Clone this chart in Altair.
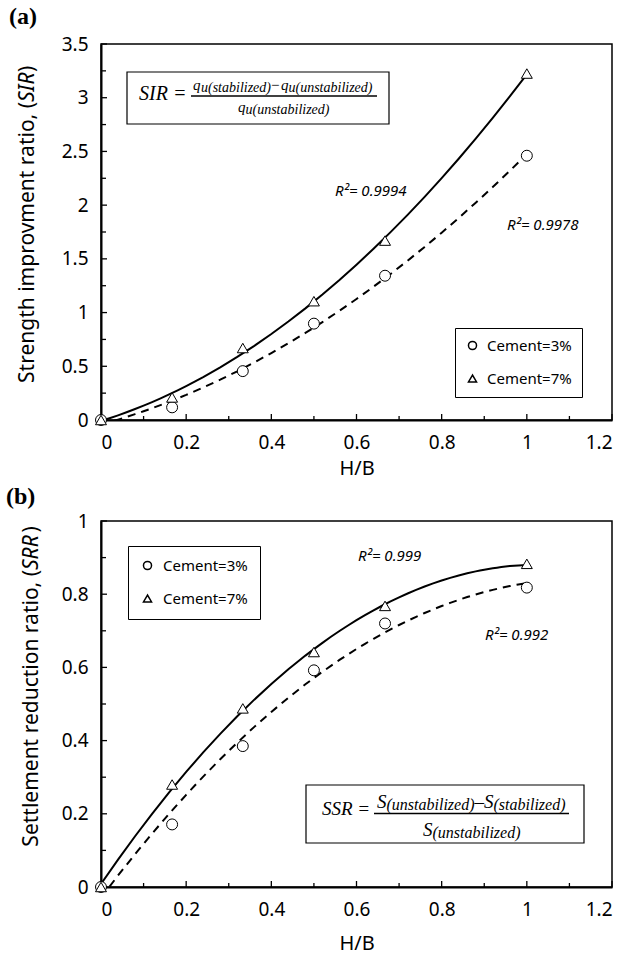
import altair as alt
import pandas as pd

# ---------------- data ----------------
hb = [0, 0.167, 0.333, 0.5, 0.667, 1.0]
series = ["Cement=3%", "Cement=7%"]
sir_c3 = [0, 0.118, 0.455, 0.897, 1.343, 2.46]
sir_c7 = [0, 0.21, 0.67, 1.106, 1.67, 3.225]
srr_c3 = [0, 0.171, 0.385, 0.592, 0.72, 0.818]
srr_c7 = [0, 0.28, 0.488, 0.642, 0.768, 0.883]

x_major = [0, 0.2, 0.4, 0.6, 0.8, 1.0, 1.2]
x_minor = [0.1, 0.3, 0.5, 0.7, 0.9, 1.1]
sir_major = [0, 0.5, 1, 1.5, 2, 2.5, 3, 3.5]
sir_minor = [0.25, 0.75, 1.25, 1.75, 2.25, 2.75, 3.25]
srr_major = [0, 0.2, 0.4, 0.6, 0.8, 1.0]
srr_minor = [0.1, 0.3, 0.5, 0.7, 0.9]

r2_sir = ["R\u00b2= 0.9994", "R\u00b2= 0.9978"]
r2_srr = ["R\u00b2= 0.999", "R\u00b2= 0.992"]
ytitle_sir = ["Strength improvment ratio, (", "SIR", ")"]
ytitle_srr = ["Settlement reduction ratio, (", "SRR", ")"]
sir_eq = ["SIR =", "q", "u(stabilized)", "\u2212", "q", "u(unstabilized)", "q", "u(unstabilized)"]
srr_eq = ["SSR =", "S", "(unstabilized)", "\u2013", "S", "(stabilized)", "S", "(unstabilized)"]
panel_tags = ["(a)", "(b)"]

W = 511
HA = 376
HB = 366
SANS = "Noto Sans"
SERIF = "Liberation Serif"

one = pd.DataFrame({"k": [0]})


def txt(s, x, y, size, font=SANS, style="normal", weight="normal",
        align="left", baseline="alphabetic", angle=0):
    return alt.Chart(one).mark_text(
        text=s, font=font, fontSize=size, fontStyle=style, fontWeight=weight,
        align=align, baseline=baseline, angle=angle, color="black"
    ).encode(x=alt.value(x), y=alt.value(y))


def box(x0, x1, y0, y1):
    return alt.Chart(one).mark_rect(fill="white", stroke="black", strokeWidth=1.2).encode(
        x=alt.value(x0), x2=alt.value(x1), y=alt.value(y0), y2=alt.value(y1))


def hbar(x0, x1, y):
    return alt.Chart(one).mark_rule(color="black", strokeWidth=1.4).encode(
        x=alt.value(x0), x2=alt.value(x1), y=alt.value(y))


def panel(y3, y7, ymaj, ymin, ymax, H, legx, legy, symoff, laboff, xtpad):
    df = pd.DataFrame({
        "hb": hb + hb,
        "v": y3 + y7,
        "s": [series[0]] * len(hb) + [series[1]] * len(hb),
    })
    xs = alt.Scale(domain=[0, 1.2], nice=False, zero=False)
    ys = alt.Scale(domain=[0, ymax], nice=False, zero=False)
    xaxis = alt.Axis(values=x_major, format="~g", ticks=False, grid=False,
                     domainColor="black", domainWidth=2,
                     labelFont=SANS, labelFontSize=19, labelColor="black",
                     labelPadding=13, titleFont=SANS, titleFontSize=20,
                     titleFontWeight="normal", titleColor="black", titlePadding=xtpad)
    yaxis = alt.Axis(values=ymaj, format="~g", ticks=False, grid=False,
                     domainColor="black", domainWidth=2,
                     labelFont=SANS, labelFontSize=19, labelColor="black",
                     labelPadding=13)
    x_enc = alt.X("hb:Q", scale=xs, axis=xaxis, title="H/B")
    y_enc = alt.Y("v:Q", scale=ys, axis=yaxis, title=None)

    base = alt.Chart(df)
    fit7 = base.transform_filter(alt.datum.s == series[1]).transform_regression(
        "hb", "v", method="poly", order=2).mark_line(
        color="black", strokeWidth=2, clip=True).encode(x=x_enc, y=y_enc)
    fit3 = base.transform_filter(alt.datum.s == series[0]).transform_regression(
        "hb", "v", method="poly", order=2).mark_line(
        color="black", strokeWidth=2, strokeDash=[8, 6], clip=True).encode(x=x_enc, y=y_enc)
    pts = base.mark_point(filled=False, color="black", fill="white", fillOpacity=1,
                          strokeWidth=1, size=120, opacity=1).encode(
        x=x_enc, y=y_enc,
        shape=alt.Shape("s:N", title=None,
                        scale=alt.Scale(domain=series, range=["circle", "triangle-up"]),
                        legend=alt.Legend(orient="none", legendX=legx, legendY=legy,
                                          fillColor="white", strokeColor="black",
                                          padding=8 + symoff,
                                          labelOffset=laboff, rowPadding=17,
                                          labelFont=SANS, labelFontSize=15,
                                          labelColor="black", symbolSize=65)))
    xt_major = alt.Chart(pd.DataFrame({"hb": x_major})).mark_rule(
        color="black", strokeWidth=1.3).encode(x=x_enc, y=alt.value(H), y2=alt.value(H - 6))
    xt_minor = alt.Chart(pd.DataFrame({"hb": x_minor})).mark_rule(
        color="black", strokeWidth=1.3).encode(x=x_enc, y=alt.value(H), y2=alt.value(H - 4))
    yt_major = alt.Chart(pd.DataFrame({"v": ymaj})).mark_rule(
        color="black", strokeWidth=1.3).encode(y=y_enc, x=alt.value(0), x2=alt.value(6))
    yt_minor = alt.Chart(pd.DataFrame({"v": ymin})).mark_rule(
        color="black", strokeWidth=1.3).encode(y=y_enc, x=alt.value(0), x2=alt.value(5))
    return [xt_major, xt_minor, yt_major, yt_minor, fit3, fit7, pts]


# ---------------- panel (a) ----------------
layers_a = panel(sir_c3, sir_c7, sir_major, sir_minor, 3.5, HA, 354, 284, 2, 7, 6)
ann_a = [
    txt(panel_tags[0], -92, -20, 24, font=SERIF, weight="bold"),
    txt(ytitle_sir[0], -73, 58, 21, align="right", baseline="middle", angle=270),
    txt(ytitle_sir[1], -73, 58, 21, style="italic", baseline="middle", angle=270),
    txt(ytitle_sir[2], -73, 28, 21, baseline="middle", angle=270),
    txt(r2_sir[0], 234, 152, 15, style="italic"),
    txt(r2_sir[1], 406, 186, 15, style="italic"),
    box(26, 288, 28, 80),
    txt(sir_eq[0], 38, 56, 20, font=SERIF, style="italic"),
    txt(sir_eq[1], 92, 46, 15, font=SERIF, style="italic"),
    txt(sir_eq[2], 100, 48, 14, font=SERIF, style="italic"),
    txt(sir_eq[3], 170, 46, 15, font=SERIF),
    txt(sir_eq[4], 180, 46, 15, font=SERIF, style="italic"),
    txt(sir_eq[5], 187.5, 48, 14, font=SERIF, style="italic"),
    hbar(90, 276, 52),
    txt(sir_eq[6], 137, 68, 15, font=SERIF, style="italic"),
    txt(sir_eq[7], 144.5, 70, 14, font=SERIF, style="italic"),
]
chart_a = alt.layer(*(layers_a + ann_a)).properties(width=W, height=HA)

# ---------------- panel (b) ----------------
layers_b = panel(srr_c3, srr_c7, srr_major, srr_minor, 1.0, HB, 27, 25, 4, 8, 14)
ann_b = [
    txt(panel_tags[1], -95, -17, 24, font=SERIF, weight="bold"),
    txt(ytitle_srr[0], -69, 49, 21, align="right", baseline="middle", angle=270),
    txt(ytitle_srr[1], -69, 49, 21, style="italic", baseline="middle", angle=270),
    txt(ytitle_srr[2], -69, 11.5, 21, baseline="middle", angle=270),
    txt(r2_srr[0], 257, 40, 15, style="italic"),
    txt(r2_srr[1], 384, 119, 15, style="italic"),
    box(205, 483, 264, 322),
    txt(srr_eq[0], 221, 294, 19, font=SERIF, style="italic"),
    txt(srr_eq[1], 276, 287, 19, font=SERIF, style="italic"),
    txt(srr_eq[2], 285.5, 289, 16, font=SERIF, style="italic"),
    txt(srr_eq[3], 373.5, 287, 19, font=SERIF),
    txt(srr_eq[4], 383, 287, 19, font=SERIF, style="italic"),
    txt(srr_eq[5], 392.5, 289, 16, font=SERIF, style="italic"),
    hbar(273, 468, 292.5),
    txt(srr_eq[6], 322, 315, 19, font=SERIF, style="italic"),
    txt(srr_eq[7], 331.5, 317, 16, font=SERIF, style="italic"),
]
chart_b = alt.layer(*(layers_b + ann_b)).properties(width=W, height=HB)

chart = alt.vconcat(chart_a, chart_b, spacing=101, bounds="flush").resolve_scale(
    shape="independent", x="independent", y="independent"
).resolve_legend(shape="independent").properties(
    padding={"left": 5, "top": 4, "right": 0, "bottom": 0},
    background="white",
).configure_view(stroke="black", strokeWidth=1.5)

chart.save("out.html", embed_options={"renderer": "svg", "actions": False})
